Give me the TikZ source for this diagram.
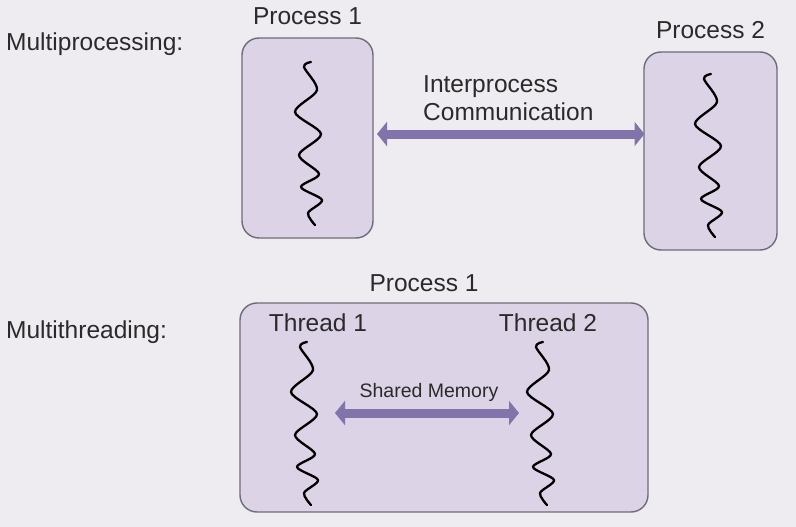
\documentclass[tikz,border=0pt]{standalone}
\usepackage{fontspec}
\setmainfont{Liberation Sans}
\usetikzlibrary{arrows.meta,positioning}
\definecolor{bgcol}{HTML}{EEECF0}
\definecolor{boxfill}{HTML}{DCD3E6}
\definecolor{boxline}{HTML}{6E6C78}
\definecolor{arrowcol}{HTML}{8074AA}
\definecolor{textcol}{HTML}{2A2A2A}

\tikzset{
  procbox/.style={draw=boxline, line width=1.4pt, fill=boxfill, rounded corners=17pt, inner sep=0pt},
  txt/.style={font=\fontsize{24.5}{28}\selectfont, text=textcol, inner sep=0pt},
  smalltxt/.style={font=\fontsize{19.5}{23}\selectfont, text=textcol, inner sep=0pt},
  thread/.style={line width=2.3pt, black, line cap=round, line join=round},
  ipc/.style={arrowcol, line width=9pt,
    {Triangle[width=24pt,length=10pt]}-{Triangle[width=24pt,length=10pt]}}
}

\newcommand\squiggle[1]{%
  \draw[thread, shift={(#1)}] plot[smooth, tension=0.5] coordinates
    {(0,0) (-7,5) (6,28) (-16,50) (10,72) (-12,93) (8,112) (-10,125) (11,138) (-3,151) (4,163)};}

\begin{document}
\begin{tikzpicture}[x=1pt, y=-1pt]
    \fill[bgcol] (0,0) rectangle (796,527);
    \useasboundingbox (0,0) rectangle (796,527);

    % multiprocessing
    \node[txt, anchor=west] (mp) at (6,44) {Multiprocessing:};
    \node[procbox, minimum width=131pt, minimum height=200pt] (p1) at (307.5,138) {};
    \node[procbox, minimum width=133pt, minimum height=198pt] (p2) at (710.5,151) {};
    \node[txt, above=12pt of p1] (p1lbl) {Process 1};
    \node[txt, above=12pt of p2] (p2lbl) {Process 2};
    \coordinate (w1) at (311,62);
    \coordinate (w2) at (711,74);
    \coordinate (ipcL) at (377,134);
    \coordinate (ipcR) at (644.5,134);
    \draw[ipc] (ipcL) -- (ipcR);
    \node[txt, anchor=west, align=left] (ipclbl) at (423,98) {Interprocess\\Communication};

    % multithreading
    \node[txt, anchor=west] (mt) at (6,332) {Multithreading:};
    \node[procbox, minimum width=408pt, minimum height=209pt] (p3) at (444,407.5) {};
    \node[txt, above=10pt of p3, xshift=-20pt] (p3lbl) {Process 1};
    \node[txt, anchor=base] (t1lbl) at (318,331) {Thread 1};
    \node[txt, anchor=base] (t2lbl) at (548,331) {Thread 2};
    \coordinate (w3) at (307,342);
    \coordinate (w4) at (543,342);
    \coordinate (shmL) at (335,413);
    \coordinate (shmR) at (519,413);
    \draw[ipc] (shmL) -- (shmR);
    \node[smalltxt] (shmlbl) at (429,392) {Shared Memory};

    \foreach \w in {w1,w2,w3,w4} {\squiggle{\w}}
  \end{tikzpicture}
\end{document}
